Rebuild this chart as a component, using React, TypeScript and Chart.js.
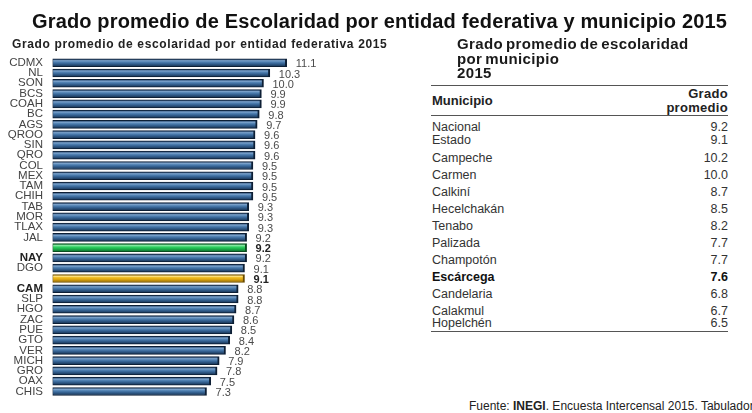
import React, { useEffect, useRef } from "react";
import { Chart, registerables } from "chart.js";
Chart.register(...registerables);

const mainTitle = "Grado promedio de Escolaridad por entidad federativa y municipio 2015";
const chartTitle = "Grado promedio de escolaridad por entidad federativa 2015";
const tableTitle = ["Grado promedio de escolaridad", "por municipio", "2015"];

const estados = ["CDMX", "NL", "SON", "BCS", "COAH", "BC", "AGS", "QROO", "SIN", "QRO", "COL", "MEX", "TAM", "CHIH", "TAB", "MOR", "TLAX", "JAL", "", "NAY", "DGO", "", "CAM", "SLP", "HGO", "ZAC", "PUE", "GTO", "VER", "MICH", "GRO", "OAX", "CHIS"];
const gradosEstado = [11.1, 10.3, 10.0, 9.9, 9.9, 9.8, 9.7, 9.6, 9.6, 9.6, 9.5, 9.5, 9.5, 9.5, 9.3, 9.3, 9.3, 9.2, 9.2, 9.2, 9.1, 9.1, 8.8, 8.8, 8.7, 8.6, 8.5, 8.4, 8.2, 7.9, 7.8, 7.5, 7.3];
const nacionalIndex = 18;
const campecheIndex = 21;
const boldEstados = ["NAY", "CAM"];

const municipios = ["Nacional", "Estado", "Campeche", "Carmen", "Calkiní", "Hecelchakán", "Tenabo", "Palizada", "Champotón", "Escárcega", "Candelaria", "Calakmul", "Hopelchén"];
const gradosMunicipio = ["9.2", "9.1", "10.2", "10.0", "8.7", "8.5", "8.2", "7.7", "7.7", "7.6", "6.8", "6.7", "6.5"];
const boldMunicipio = "Escárcega";

const FONT = '"Liberation Sans", Arial, Helvetica, sans-serif';

function makeGradient(c: CanvasRenderingContext2D, y: number, stops: string[]) {
  const g = c.createLinearGradient(0, y - 4, 0, y + 4);
  g.addColorStop(0, stops[0]);
  g.addColorStop(0.25, stops[1]);
  g.addColorStop(0.4, stops[2]);
  g.addColorStop(0.6, stops[3]);
  g.addColorStop(1, stops[4]);
  return g;
}

const blueStops = ["#16345a", "#7aa1ca", "#5182b3", "#376596", "#15304f"];
const greenStops = ["#0c6a2c", "#8af0a6", "#33d165", "#1fb84e", "#0d6e2e"];
const yellowStops = ["#8a6300", "#ffe07a", "#f0bb1e", "#e0a812", "#8e6600"];

function BarChart() {
  const ref = useRef<HTMLCanvasElement | null>(null);
  useEffect(() => {
    if (!ref.current) return;
    const valueLabels = {
      id: "valueLabels",
      afterDatasetsDraw(chart: any) {
        const ctx = chart.ctx;
        const meta = chart.getDatasetMeta(0);
        ctx.save();
        ctx.textBaseline = "middle";
        ctx.textAlign = "left";
        meta.data.forEach((bar: any, i: number) => {
          const bold = i === nacionalIndex || i === campecheIndex;
          ctx.font = `${bold ? "bold " : ""}11px ${FONT}`;
          ctx.fillStyle = bold ? "#222" : "#4a4a4a";
          ctx.fillText(gradosEstado[i].toFixed(1), bar.x + 9, bar.y + 1.5);
        });
        ctx.restore();
      },
    };
    const pick = (i: number) => (i === nacionalIndex ? greenStops : i === campecheIndex ? yellowStops : blueStops);
    const chart = new Chart(ref.current, {
      type: "bar",
      data: {
        labels: estados,
        datasets: [
          {
            data: gradosEstado,
            backgroundColor: (c: any) => {
              const i = c.dataIndex;
              if (i === undefined) return "#376596";
              const ys = c.chart.scales && c.chart.scales.y;
              const y = ys ? ys.getPixelForValue(i) : NaN;
              if (!isFinite(y)) return pick(i)[3];
              return makeGradient(c.chart.ctx, y, pick(i));
            },
            borderColor: (c: any) => {
              const i = c.dataIndex;
              return i === nacionalIndex ? "#0b4d20" : i === campecheIndex ? "#6b4c00" : "#0d1f35";
            },
            borderWidth: { left: 1, right: 2, top: 1, bottom: 1 },
            borderSkipped: false,
            barThickness: 8,
          },
        ],
      },
      options: {
        indexAxis: "y",
        responsive: false,
        animation: false,
        devicePixelRatio: 1,
        layout: { padding: { top: 57.6, bottom: 11.2, left: 0, right: 33.2 } },
        plugins: { legend: { display: false }, tooltip: { enabled: false }, title: { display: false } },
        scales: {
          x: { display: false, min: 0, max: 13 },
          y: {
            grid: { display: false, drawTicks: false },
            border: { display: false },
            afterFit: (axis: any) => {
              axis.width = 52.5;
            },
            ticks: {
              padding: 9.5,
              autoSkip: false,
              color: (c: any) => (boldEstados.includes(estados[c.index]) ? "#222" : "#444"),
              font: (c: any) => ({
                family: FONT,
                size: 11.5,
                weight: boldEstados.includes(estados[c.index]) ? "bold" : "normal",
              }),
            },
          },
        },
      },
      plugins: [valueLabels],
    } as any);
    return () => chart.destroy();
  }, []);
  return <canvas ref={ref} width={360} height={413} style={{ position: "absolute", left: 0, top: 0 }} />;
}

export default function App() {
  const abs = (extra: React.CSSProperties): React.CSSProperties => ({
    position: "absolute",
    whiteSpace: "nowrap",
    transform: "translateY(-50%)",
    lineHeight: 1.2,
    ...extra,
  });
  const rowCenters: number[] = [];
  let y = 127.3;
  municipios.forEach((_, i) => {
    if (i === 1) y += 12.7;
    else if (i === 2) y += 17.7;
    else if (i === municipios.length - 1) y += 12.6;
    else if (i > 0) y += 17;
    rowCenters.push(y);
  });
  return (
    <div
      style={{
        position: "absolute",
        left: 0,
        top: 0,
        width: 752,
        height: 413,
        overflow: "hidden",
        background: "#fff",
        fontFamily: FONT,
        color: "#333",
      }}
    >
      <BarChart />
      <div style={abs({ left: 32, top: 21, fontSize: 20, fontWeight: "bold", color: "#111", letterSpacing: 0.15 })}>{mainTitle}</div>
      <div style={abs({ left: 12, top: 44, fontSize: 12, fontWeight: "bold", color: "#222", letterSpacing: 0.63 })}>{chartTitle}</div>
      {tableTitle.map((t, i) => (
        <div key={t} style={abs({ left: 457, top: 44 + i * 14.5, fontSize: 15, fontWeight: "bold", color: "#1a1a1a", wordSpacing: -1.5, letterSpacing: 0.35 })}>
          {t}
        </div>
      ))}
      <div style={{ position: "absolute", left: 431, top: 85, width: 297, height: 1, background: "#555" }} />
      <div style={abs({ left: 432, top: 101, fontSize: 13, fontWeight: "bold", color: "#222" })}>Municipio</div>
      <div style={abs({ right: 752 - 728, top: 94, fontSize: 13, fontWeight: "bold", color: "#222", textAlign: "right", letterSpacing: 0.3 })}>Grado</div>
      <div style={abs({ right: 752 - 728, top: 108, fontSize: 13, fontWeight: "bold", color: "#222", textAlign: "right", letterSpacing: 0.3 })}>promedio</div>
      <div style={{ position: "absolute", left: 431, top: 115, width: 297, height: 1, background: "#555" }} />
      {municipios.map((m, i) => {
        const bold = m === boldMunicipio;
        return (
          <React.Fragment key={m}>
            <div style={abs({ left: 432, top: rowCenters[i], fontSize: 12.5, fontWeight: bold ? "bold" : "normal", color: bold ? "#111" : "#333" })}>{m}</div>
            <div style={abs({ right: 752 - 728, top: rowCenters[i], fontSize: 12.5, fontWeight: bold ? "bold" : "normal", color: bold ? "#111" : "#333", textAlign: "right" })}>
              {gradosMunicipio[i]}
            </div>
          </React.Fragment>
        );
      })}
      <div style={{ position: "absolute", left: 431, top: 331, width: 297, height: 1, background: "#555" }} />
      <div style={abs({ left: 469, top: 406, fontSize: 12, color: "#222" })}>
        Fuente: <b>INEGI</b>. Encuesta Intercensal 2015. Tabulador
      </div>
    </div>
  );
}
